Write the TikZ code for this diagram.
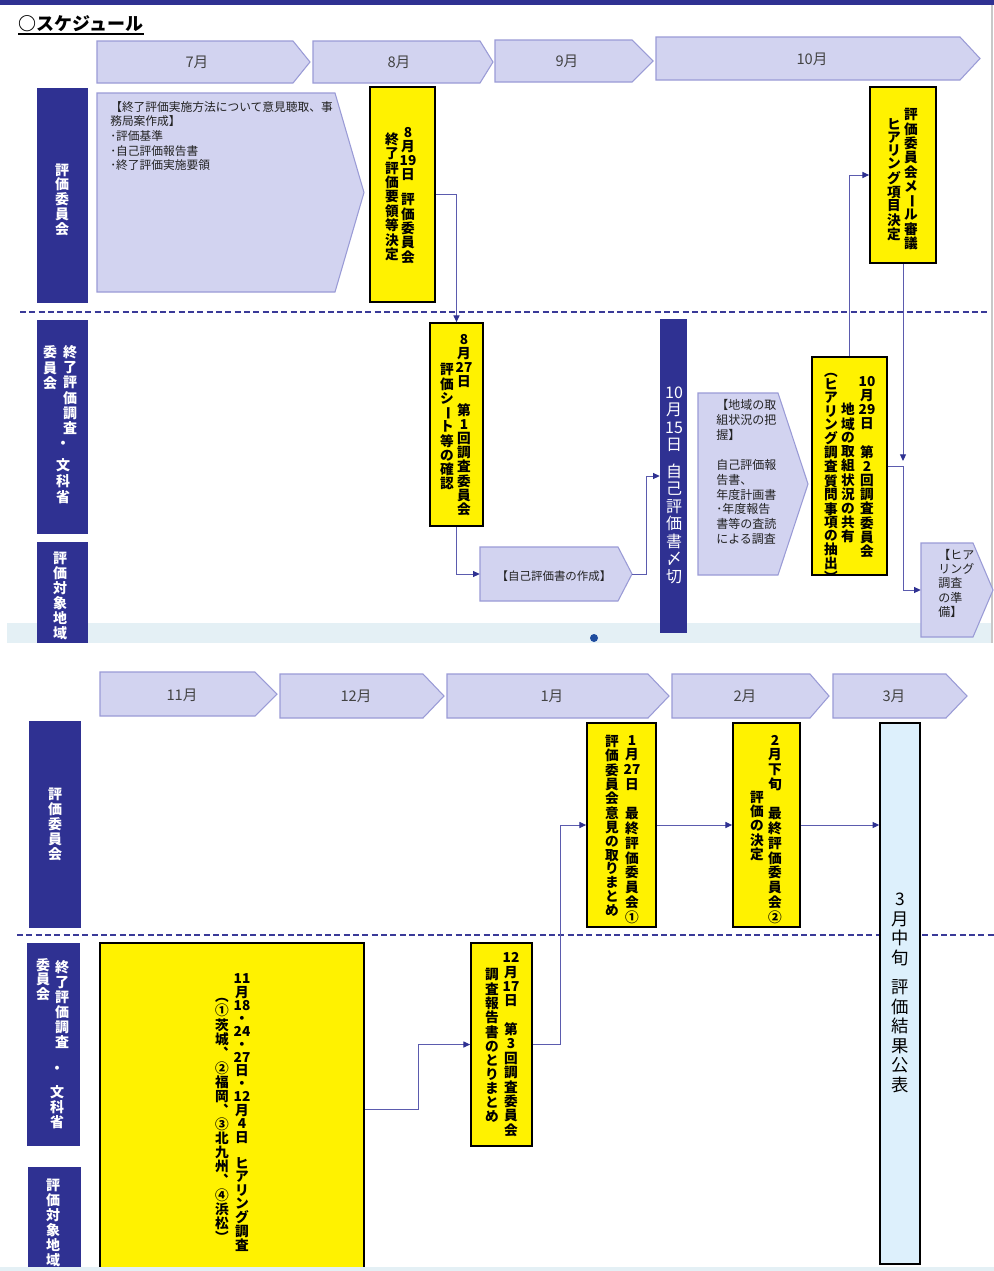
\documentclass[tikz,border=0pt]{standalone}
\usepackage{fontspec}
\setmainfont{Noto Sans CJK JP}
\usetikzlibrary{arrows.meta}

\definecolor{navy}{HTML}{2F3192}
\definecolor{monfill}{HTML}{D2D3F0}
\definecolor{monedge}{HTML}{9A9BD6}
\definecolor{linkc}{HTML}{5B5BAE}
\definecolor{tipc}{HTML}{2F3192}
\definecolor{dashc}{HTML}{3A3A98}
\definecolor{stripc}{HTML}{E4F0F5}
\definecolor{pubfill}{HTML}{DDF0FC}
\definecolor{txtc}{HTML}{222222}
\definecolor{dotc}{HTML}{1E4C9E}
\definecolor{edgec}{HTML}{C8C8C8}

% vertical (tategaki) column: one item per cell, pitch given in px
\ExplSyntaxOn
\dim_new:N \l__vc_pitch_dim
\cs_new_protected:Npn \vgap #1 { \kern \fp_eval:n { #1 * 0.75 } pt \scan_stop: }
\NewDocumentCommand \vcol { O{14} m }
  {
    \dim_set:Nn \l__vc_pitch_dim { \fp_eval:n { #1 * 0.75 } pt }
    \vbox
      {
        \offinterlineskip
        \tl_map_inline:nn {#2}
          {
            \tl_if_head_eq_meaning:nNTF {##1} \vgap
              { ##1 }
              {
                \hbox_to_wd:nn { 0pt }
                  {
                    \hss
                    \rule [ -0.2\l__vc_pitch_dim ] { 0pt } { \l__vc_pitch_dim }
                    ##1
                    \hss
                  }
              }
          }
      }
  }
\ExplSyntaxOff
\newcommand\vl{\rotatebox[origin=c]{-90}{ー}}

% rectangle node from two corners (px)
\newcommand\rnode[7][]{\node[inner sep=0pt, minimum width={(#5-#3)*0.75pt},
  minimum height={(#6-#4)*0.75pt}, #1] (#2) at ({(#3+#5)/2},{(#4+#6)/2}) {#7};}
% arrow-shaped pentagon: x1,y1, end of body, tip, y2
\newcommand\pent[7][]{%
  \path[#1] (#3,#4) -- (#5,#4) -- (#6,{(#4+#7)/2}) -- (#5,#7) -- (#3,#7) -- cycle;
  \rnode{#2}{#3}{#4}{#6}{#7}{}}

\tikzset{
  month/.style={fill=monfill, draw=monedge, line width=0.8pt},
  mtxt/.style={inner sep=0pt, text=txtc!85, font=\fontsize{11}{13}\selectfont},
  lane/.style={fill=navy},
  ltxt/.style={inner sep=0pt, anchor=north, text=white, font=\fontsize{10.5}{12}\selectfont\bfseries},
  ybox/.style={fill=yellow, draw=black, line width=1.3pt},
  pubbox/.style={fill=pubfill, draw=black, line width=1.1pt},
  ytxt/.style={inner sep=0pt, anchor=north, text=black, font=\fontsize{10.25}{12}\selectfont\bfseries},
  ptxt/.style={inner sep=0pt, anchor=north west, align=left, text=txtc},
  link/.style={draw=linkc, line width=0.75pt, -{Triangle[length=5pt,width=4.5pt,color=tipc]}},
  lanedash/.style={draw=dashc, line width=1.1pt, dash pattern=on 4.5pt off 2.5pt},
}

\begin{document}
\begin{tikzpicture}[x=0.75pt,y=-0.75pt]
\path[fill=white] (0,0) rectangle (994,1271);
\useasboundingbox (0,0) rectangle (994,1271);

% frame of the upper sheet
\fill[navy] (0,0) rectangle (994,5);
\fill[stripc] (7,623) rectangle (992,643);
\draw[edgec, line width=0.8pt] (992,5) -- (992,643);

% title
\node[anchor=base west, inner sep=0pt, text=black, font=\fontsize{13.5}{16}\selectfont\bfseries] (title) at (18,30) {○スケジュール};
\draw[black, line width=1.1pt] (18,34) -- (144,34);

% lane separators
\draw[lanedash] (20,312) -- (990,312);
\draw[lanedash] (17,935) -- (994,935);

% months, upper sheet
\pent[month]{m7}{97}{41}{293}{310}{83}
\pent[month]{m8}{313}{41}{480}{493}{83}
\pent[month]{m9}{495}{40}{632}{653}{82}
\pent[month]{m10}{656}{37}{960}{980}{80}
\node[mtxt] (m7t) at (197,62) {7月};
\node[mtxt] (m8t) at (399,62) {8月};
\node[mtxt] (m9t) at (567,61) {9月};
\node[mtxt] (m10t) at (812,59) {10月};

% months, lower sheet
\pent[month]{m11}{100}{672}{255}{277}{716}
\pent[month]{m12}{280}{674}{423}{444}{718}
\pent[month]{m1}{447}{674}{648}{669}{718}
\pent[month]{m2}{672}{674}{810}{829}{718}
\pent[month]{m3}{833}{674}{946}{967}{718}
\node[mtxt] (m11t) at (182,695) {11月};
\node[mtxt] (m12t) at (356,696) {12月};
\node[mtxt] (m1t) at (552,696) {1月};
\node[mtxt] (m2t) at (745,696) {2月};
\node[mtxt] (m3t) at (894,696) {3月};

% lane labels
\rnode[lane]{L1}{37}{88}{88}{303}{}
\rnode[lane]{L2}{37}{320}{88}{534}{}
\rnode[lane]{L3}{37}{542}{88}{643}{}
\rnode[lane]{L4}{29}{721}{81}{928}{}
\rnode[lane]{L5}{27}{943}{80}{1146}{}
\rnode[lane]{L6}{28}{1167}{81}{1271}{}
\node[ltxt] (L1t) at (62,163) {\vcol[14.75]{評価委員会}};
\node[ltxt] (L2a) at (70,345) {\vcol[15.2]{終了評価調査}};
\node[ltxt] (L2b) at (50,345) {\vcol[15.5]{委員会}};
\node[ltxt, anchor=center] (L2c) at (63,445) {・};
\node[ltxt] (L2d) at (63,457) {\vcol[16]{文科省}};
\node[ltxt] (L3t) at (60,551) {\vcol[15]{評価対象地域}};
\node[ltxt] (L4t) at (55,787) {\vcol[15]{評価委員会}};
\node[ltxt] (L5a) at (62,960) {\vcol[15]{終了評価調査}};
\node[ltxt] (L5b) at (43,958) {\vcol[14]{委員会}};
\node[ltxt, anchor=center] (L5c) at (57,1070) {・};
\node[ltxt] (L5d) at (57,1085) {\vcol[15]{文科省}};
\node[ltxt] (L6t) at (53,1178) {\vcol[15]{評価対象地域}};

% upper sheet: activities
\pent[month]{big7}{97}{93}{335}{364}{292}
\node[ptxt, font=\fontsize{8.8}{11}\selectfont] (big7t) at (110,101)
  {【終了評価実施方法について意見聴取、事\\務局案作成】\\･評価基準\\･自己評価報告書\\･終了評価実施要領};

\rnode[ybox]{bA}{370}{87}{435}{302}{}
\node[ytxt] (bA1) at (408,126) {\vcol[14]{8月{19}日{\vgap{11}}評価委員会}};
\node[ytxt] (bA2) at (392,133) {\vcol[14]{終了評価要領等決定}};

\rnode[ybox]{bB}{870}{87}{936}{263}{}
\node[ytxt] (bB1) at (911,108) {\vcol[14]{評価委員会メ{\vl}ル審議}};
\node[ytxt] (bB2) at (894,118) {\vcol[13]{ヒアリング項目決定}};

\rnode[ybox]{bC}{430}{323}{483}{526}{}
\node[ytxt] (bC1) at (464,333) {\vcol[14]{8月{27}日{}第1回調査委員会}};
\node[ytxt] (bC2) at (447,363) {\vcol[14]{評価シ{\vl}ト等の確認}};

\pent[month]{self}{480}{547}{618}{632}{601}
\node[inner sep=0pt, text=txtc, font=\fontsize{8.6}{10}\selectfont] (selft) at (554,576) {【自己評価書の作成】};

\rnode[lane]{bar}{660}{319}{687}{633}{}
\node[ltxt, font=\fontsize{12}{14}\selectfont] (bart) at (674,384) {\vcol[17.5]{{10}月{15}日{\vgap{9}}自己評価書〆切}};

\pent[month]{area}{698}{393}{778}{808}{575}
\node[ptxt, font=\fontsize{9}{11.2}\selectfont] (areat) at (716,399)
  {【地域の取\\組状況の把\\握】\\[11.2pt]自己評価報\\告書、\\年度計画書\\･年度報告\\書等の査読\\による調査};

\rnode[ybox]{bD}{812}{357}{887}{575}{}
\node[ytxt] (bD1) at (867,375) {\vcol[14]{{10}月{29}日{}第2回調査委員会}};
\node[ytxt] (bD2) at (848,403) {\vcol[13.5]{地域の取組状況の共有}};
\node[ytxt] (bD3) at (831,366) {\vcol[12.7]{︵ヒアリング調査質問事項の抽出︶}};

\pent[month]{hear}{921}{543}{973}{993}{637}
\node[ptxt, font=\fontsize{9}{10.7}\selectfont] (heart) at (938,549)
  {【ヒア\\リング\\調査\\の準\\備】};

% lower sheet: activities
\rnode[ybox]{bE}{100}{943}{364}{1276}{}
\node[ytxt] (bE1) at (242,973) {\vcol[13]{{11}月{18}・{24}・{27}日・{12}月4日{}ヒアリング調査}};
\node[ytxt] (bE2) at (222,991) {\vcol[13]{︵①茨城︑②福岡︑③北九州︑④浜松︶}};

\rnode[ybox]{bF}{471}{943}{532}{1146}{}
\node[ytxt] (bF1) at (511,951) {\vcol[14.3]{{12}月{17}日{}第3回調査委員会}};
\node[ytxt] (bF2) at (492,968) {\vcol[14]{調査報告書のとりまとめ}};

\rnode[ybox]{bG}{587}{723}{656}{927}{}
\node[ytxt] (bG1) at (632,733) {\vcol[14.75]{1月{27}日{}最終評価委員会①}};
\node[ytxt] (bG2) at (612,735) {\vcol[13.8]{評価委員会意見の取りまとめ}};

\rnode[ybox]{bH}{733}{723}{800}{927}{}
\node[ytxt] (bH1) at (775,733) {\vcol[14.75]{2月下旬{}最終評価委員会②}};
\node[ytxt] (bH2) at (757,791) {\vcol[13.75]{評価の決定}};

\rnode[pubbox]{bI}{880}{723}{920}{1264}{}
\node[ytxt, font=\fontsize{13}{15}\selectfont] (bI1) at (900,890) {\vcol[19.5]{3月中旬{\vgap{10}}評価結果公表}};

% flow
\draw[link] (bA.east) -| (bC.north);
\draw[link] (bC.south) |- (self.west);
\draw[link] (self.east) -- ++(14,0) |- (bar.west);
\draw[link] (bD.north) |- (bB.west);
\coordinate (bBend) at (903,461);
\draw[link] (bB.south) -- (bBend);
\draw[link] (bD.east) -- ++(16,0) |- (hear.west);

\draw[link] (bE.east) -- ++(54,0) |- (bF.west);
\draw[link] (bF.east) -- ++(28,0) |- (bG.west);
\draw[link] (bG.east) -- (bH.west);
\draw[link] (bH.east) -- (bH.east -| bI.west);

% page marker and lower edge
\node[circle, fill=dotc, minimum size=6pt, inner sep=0pt] (dot) at (594,638) {};
\fill[stripc] (0,1267) rectangle (994,1271);
\end{tikzpicture}
\end{document}
